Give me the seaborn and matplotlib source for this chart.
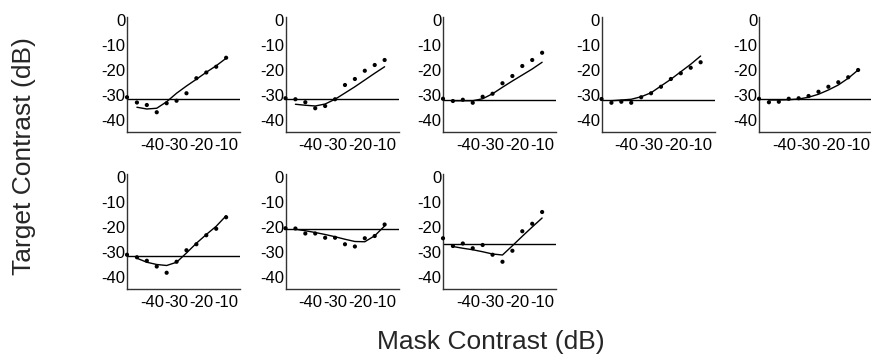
import matplotlib
matplotlib.use("Agg")
import matplotlib.pyplot as plt
import seaborn as sns
import pandas as pd

# ---------------- data ----------------
mask_db = [-46, -42, -38, -34, -30, -26, -22, -18, -14, -10]
x_ticks = [-40, -30, -20, -10]
y_ticks = [0, -10, -20, -30, -40]

p1_points = [-33.0, -34.0, -36.9, -33.3, -32.3, -29.3, -23.3, -21.0, -18.7, -15.1]
p1_fit    = [-34.9, -35.6, -35.3, -32.7, -29.3, -26.4, -23.7, -20.9, -18.3, -15.3]
p2_points = [-31.7, -32.9, -35.3, -34.4, -31.7, -26.0, -23.6, -20.3, -18.0, -16.0]
p2_fit    = [-33.7, -34.1, -34.4, -33.6, -31.7, -29.2, -26.7, -24.0, -21.3, -18.7]
p3_points = [-32.4, -31.9, -33.1, -30.7, -29.5, -25.3, -22.4, -18.4, -16.0, -13.1]
p3_fit    = [-32.3, -32.3, -32.3, -31.5, -29.5, -26.9, -24.4, -22.0, -19.6, -16.9]
p4_points = [-33.1, -32.7, -33.1, -30.9, -29.3, -26.7, -23.6, -21.3, -19.1, -16.9]
p4_fit    = [-32.3, -32.0, -31.7, -30.7, -29.1, -26.4, -23.7, -20.7, -17.7, -14.4]
p5_points = [-32.9, -32.7, -31.5, -31.3, -30.4, -28.7, -26.7, -24.9, -22.9, -20.0]
p5_fit    = [-32.0, -32.0, -31.9, -31.6, -30.9, -29.7, -28.0, -26.0, -23.3, -20.0]
p6_points = [-32.1, -33.5, -35.8, -38.3, -33.9, -29.3, -26.9, -23.3, -20.7, -16.1]
p6_fit    = [-32.5, -34.1, -35.0, -35.4, -34.1, -30.4, -26.5, -23.0, -19.7, -15.5]
p7_points = [-20.6, -22.6, -22.6, -24.3, -24.3, -26.9, -27.8, -24.5, -23.6, -19.0]
p7_fit    = [-20.9, -21.5, -22.2, -23.0, -23.9, -24.9, -25.8, -25.9, -23.5, -19.6]
p8_points = [-27.6, -26.6, -28.5, -27.2, -31.1, -33.9, -29.5, -21.7, -18.7, -14.0]
p8_fit    = [-27.8, -28.5, -29.1, -29.9, -30.8, -31.2, -27.5, -23.7, -20.0, -16.4]

# unmasked threshold (horizontal line) and its marker at the axis
baseline      = [-31.7, -31.7, -32.0, -32.0, -31.7, -31.7, -20.7, -26.9]
baseline_mark = [-30.9, -31.3, -31.5, -31.6, -31.5, -31.1, -20.5, -24.5]
baseline_x = -50

panel_points = [p1_points, p2_points, p3_points, p4_points,
                p5_points, p6_points, p7_points, p8_points]
panel_fits = [p1_fit, p2_fit, p3_fit, p4_fit, p5_fit, p6_fit, p7_fit, p8_fit]

# ---------------- style ----------------
sns.set_style("ticks")
plt.rcParams["font.family"] = ["Liberation Sans", "DejaVu Sans"]

W, H = 871, 354
fig = plt.figure(figsize=(W / 100, H / 100), dpi=100)

col_left = [127, 285.5, 443, 601.5, 759]
ax_w = 113
ax_h = 115
row_top = [17, 174]

xlim = (-50, -4.4)
ylim = (-44.8, 1.2)

for i in range(8):
    r, c = divmod(i, 5)
    left = col_left[c]
    top = row_top[r]
    ax = fig.add_axes([left / W, (H - top - ax_h) / H, ax_w / W, ax_h / H])

    df = pd.DataFrame({"mask": mask_db, "target": panel_points[i], "fit": panel_fits[i]})
    sns.lineplot(data=df, x="mask", y="fit", ax=ax, color="black", lw=1.0,
                 sort=False, estimator=None)
    sns.scatterplot(data=df, x="mask", y="target", ax=ax, color="black", s=9,
                    edgecolor="none", zorder=3)
    ax.axhline(baseline[i], color="black", lw=1.0, zorder=2)
    ax.scatter([baseline_x], [baseline_mark[i]], color="black", s=9,
               edgecolor="none", clip_on=False, zorder=4)

    ax.set_xlim(*xlim)
    ax.set_ylim(*ylim)
    ax.set_xticks(x_ticks)
    ax.set_yticks(y_ticks)
    ax.set_xticklabels([str(v) for v in x_ticks])
    ax.set_yticklabels([str(v) for v in y_ticks])
    ax.tick_params(axis="both", length=0, labelsize=12, colors="black")
    ax.tick_params(axis="y", pad=1)
    ax.tick_params(axis="x", pad=4)
    ax.set_xlabel("")
    ax.set_ylabel("")
    for s in ["top", "right"]:
        ax.spines[s].set_visible(False)
    for s in ["left", "bottom"]:
        ax.spines[s].set_color("#333333")
        ax.spines[s].set_linewidth(1.0)

fig.text(491 / W, (H - 342) / H, "Mask Contrast (dB)", ha="center", va="center",
         fontsize=19)
fig.text(24 / W, (H - 156) / H, "Target Contrast (dB)", ha="center", va="center",
         rotation=90, fontsize=19)

fig.savefig("out.png", dpi=100)
